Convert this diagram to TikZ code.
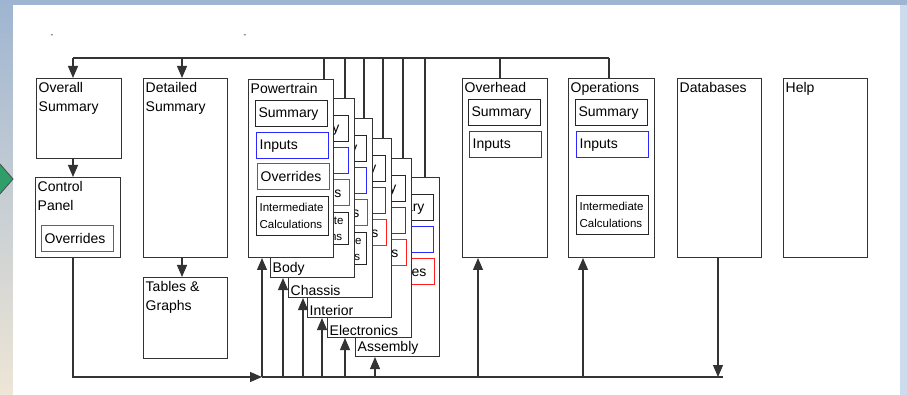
\documentclass[tikz,border=0pt]{standalone}
\usepackage{fontspec}
\setmainfont{Liberation Sans}
\usetikzlibrary{arrows.meta}
\definecolor{skyblue}{RGB}{158,181,209}
\definecolor{sand}{RGB}{238,230,214}
\definecolor{edgeblue}{RGB}{205,220,236}
\definecolor{navgreen}{RGB}{48,158,104}
\definecolor{inblue}{RGB}{40,40,255}
\definecolor{ovred}{RGB}{255,30,30}

\begin{document}
\begin{tikzpicture}[x=1pt,y=-1pt]
	\tikzset{box/.style = {draw=black!80, fill=white, line width=1pt, anchor=north west, inner sep=0pt}}
	\tikzset{title/.style = {anchor=north west, align=left, inner xsep=2.5pt, inner ysep=4pt, font=\fontsize{14}{19.5}\selectfont}}
	\tikzset{sublabel/.style = {anchor=south west, inner xsep=2.5pt, inner ysep=2pt, font=\fontsize{14}{16}\selectfont}}
	\tikzset{item/.style = {draw=black!85, fill=white, line width=1.2pt, anchor=north west, minimum width=72, minimum height=26, text width=66, inner xsep=3pt, inner ysep=0pt, align=left, font=\fontsize{14}{16}\selectfont}}
	\tikzset{inputs/.style = {item, color=inblue, draw=inblue, fill=white, text=black, line width=1.4pt}}
	\tikzset{overrides/.style = {item, color=ovred, draw=ovred, fill=white, text=black, line width=1.4pt}}
	\tikzset{calcs/.style = {item, minimum height=39, font=\fontsize{11.5}{16.5}\selectfont}}
	\tikzset{wire/.style = {draw=black!80, line width=1.1pt}}
	\tikzset{arr/.style = {wire, -{Triangle[length=12pt,width=10pt]}}}
	% background
	\useasboundingbox (0,0) rectangle (907,395);
	\shade[top color=skyblue, bottom color=sand] (0,0) rectangle (907,395);
	\fill[white] (13,5) rectangle (900,395);
	\fill[edgeblue] (900,5) rectangle (907,395);
	\draw[fill=navgreen, draw=black!70, line width=0.8pt] (0,164) -- (13,179) -- (0,194);
	\node[font=\fontsize{8}{9}\selectfont] (dashA) at (52,36) {-};
	\node[font=\fontsize{8}{9}\selectfont] (dashB) at (245,36) {-};
	% left columns
	\node[box, minimum width=85, minimum height=80] (ovsum) at (36,78) {};
	\node[title] at (ovsum.north west) {Overall\\Summary};
	\node[box, minimum width=85, minimum height=80] (ctrl) at (35,177) {};
	\node[title] at (ctrl.north west) {Control\\Panel};
	\node[overrides] (ctrlovr) at (41,225) {Overrides};
	\node[box, minimum width=84, minimum height=179] (detsum) at (143,78) {};
	\node[title] at (detsum.north west) {Detailed\\Summary};
	\node[box, minimum width=84, minimum height=81] (tables) at (143,277) {};
	\node[title] at (tables.north west) {Tables \&\\Graphs};
	% module stack, back to front
	\foreach \nm/\x/\y/\lbl/\calc in {asm/355/177/Assembly/0, elec/327/158/Electronics/0, inter/307/138/Interior/0, chas/288/118/Chassis/1, body/270/98/Body/1}{
		\node[box, minimum width=84, minimum height=179] (\nm) at (\x,\y) {};
		\node[item] (\nm sum) at ([shift={(6,17)}]\nm.north west) {Summary};
		\node[inputs] (\nm in) at ([shift={(6,49)}]\nm.north west) {Inputs};
		\node[overrides] (\nm ovr) at ([shift={(7,81)}]\nm.north west) {Overrides};
		\ifnum\calc=1
			\node[calcs, minimum height=32] (\nm calc) at ([shift={(6,114)}]\nm.north west) {Intermediate\\Calculations};
		\fi
		\node[sublabel] at (\nm.south west) {\lbl};
	}
	\node[box, minimum width=85, minimum height=178] (pt) at (248,79) {};
	\node[title] at (pt.north west) {Powertrain};
	\node[item] (ptsum) at (255,100) {Summary};
	\node[inputs] (ptin) at (256,132) {Inputs};
	\node[overrides] (ptovr) at (257,163) {Overrides};
	\node[calcs] (ptcalc) at (256,196) {Intermediate\\Calculations};
	% right columns
	\node[box, minimum width=85, minimum height=179] (ovh) at (462,78) {};
	\node[title] at (ovh.north west) {Overhead};
	\node[item] (ovhsum) at (468,99) {Summary};
	\node[inputs] (ovhin) at (469,131) {Inputs};
	\node[box, minimum width=86, minimum height=179] (ops) at (568,78) {};
	\node[title] at (ops.north west) {Operations};
	\node[item] (opssum) at (575,99) {Summary};
	\node[inputs] (opsin) at (576,131) {Inputs};
	\node[calcs] (opscalc) at (576,195) {Intermediate\\Calculations};
	\node[box, minimum width=84, minimum height=179] (db) at (677,78) {};
	\node[title] at (db.north west) {Databases};
	\node[box, minimum width=84, minimum height=179] (help) at (783,78) {};
	\node[title] at (help.north west) {Help};
	% top bus
	\coordinate (tbL) at (73,58);
	\coordinate (tbD) at (182,58);
	\coordinate (tbR) at (609,58);
	\draw[wire] (tbL) -- (tbR);
	\draw[arr] (tbL) -- (tbL |- ovsum.north);
	\draw[arr] (tbD) -- (tbD |- detsum.north);
	\foreach \xx/\nm in {324/pt, 345/body, 364/chas, 383/inter, 403/elec, 425/asm, 500/ovh, 609/ops}{
		\coordinate (top\nm) at (\xx,58);
		\draw[wire] (top\nm) -- (top\nm |- \nm.north);
	}
	\draw[arr] (ovsum.south -| tbL) -- (ctrl.north -| tbL);
	\draw[arr] (detsum.south -| tbD) -- (tables.north -| tbD);
	% bottom bus
	\coordinate (bbL) at (73,377);
	\coordinate (bbA) at (262,377);
	\coordinate (bbR) at (723,377);
	\draw[arr] (ctrl.south -| bbL) -- (bbL) -- (bbA);
	\draw[wire] (bbA) -- (bbR);
	\foreach \xx/\nm in {262/pt, 283/body, 303/chas, 322/inter, 345/elec, 375/asm, 478/ovh, 583/ops}{
		\coordinate (bot\nm) at (\xx,377);
		\draw[arr] (bot\nm) -- (bot\nm |- \nm.south);
	}
	\coordinate (botdb) at (718,377);
	\draw[arr] (botdb |- db.south) -- (botdb);
\end{tikzpicture}
\end{document}
